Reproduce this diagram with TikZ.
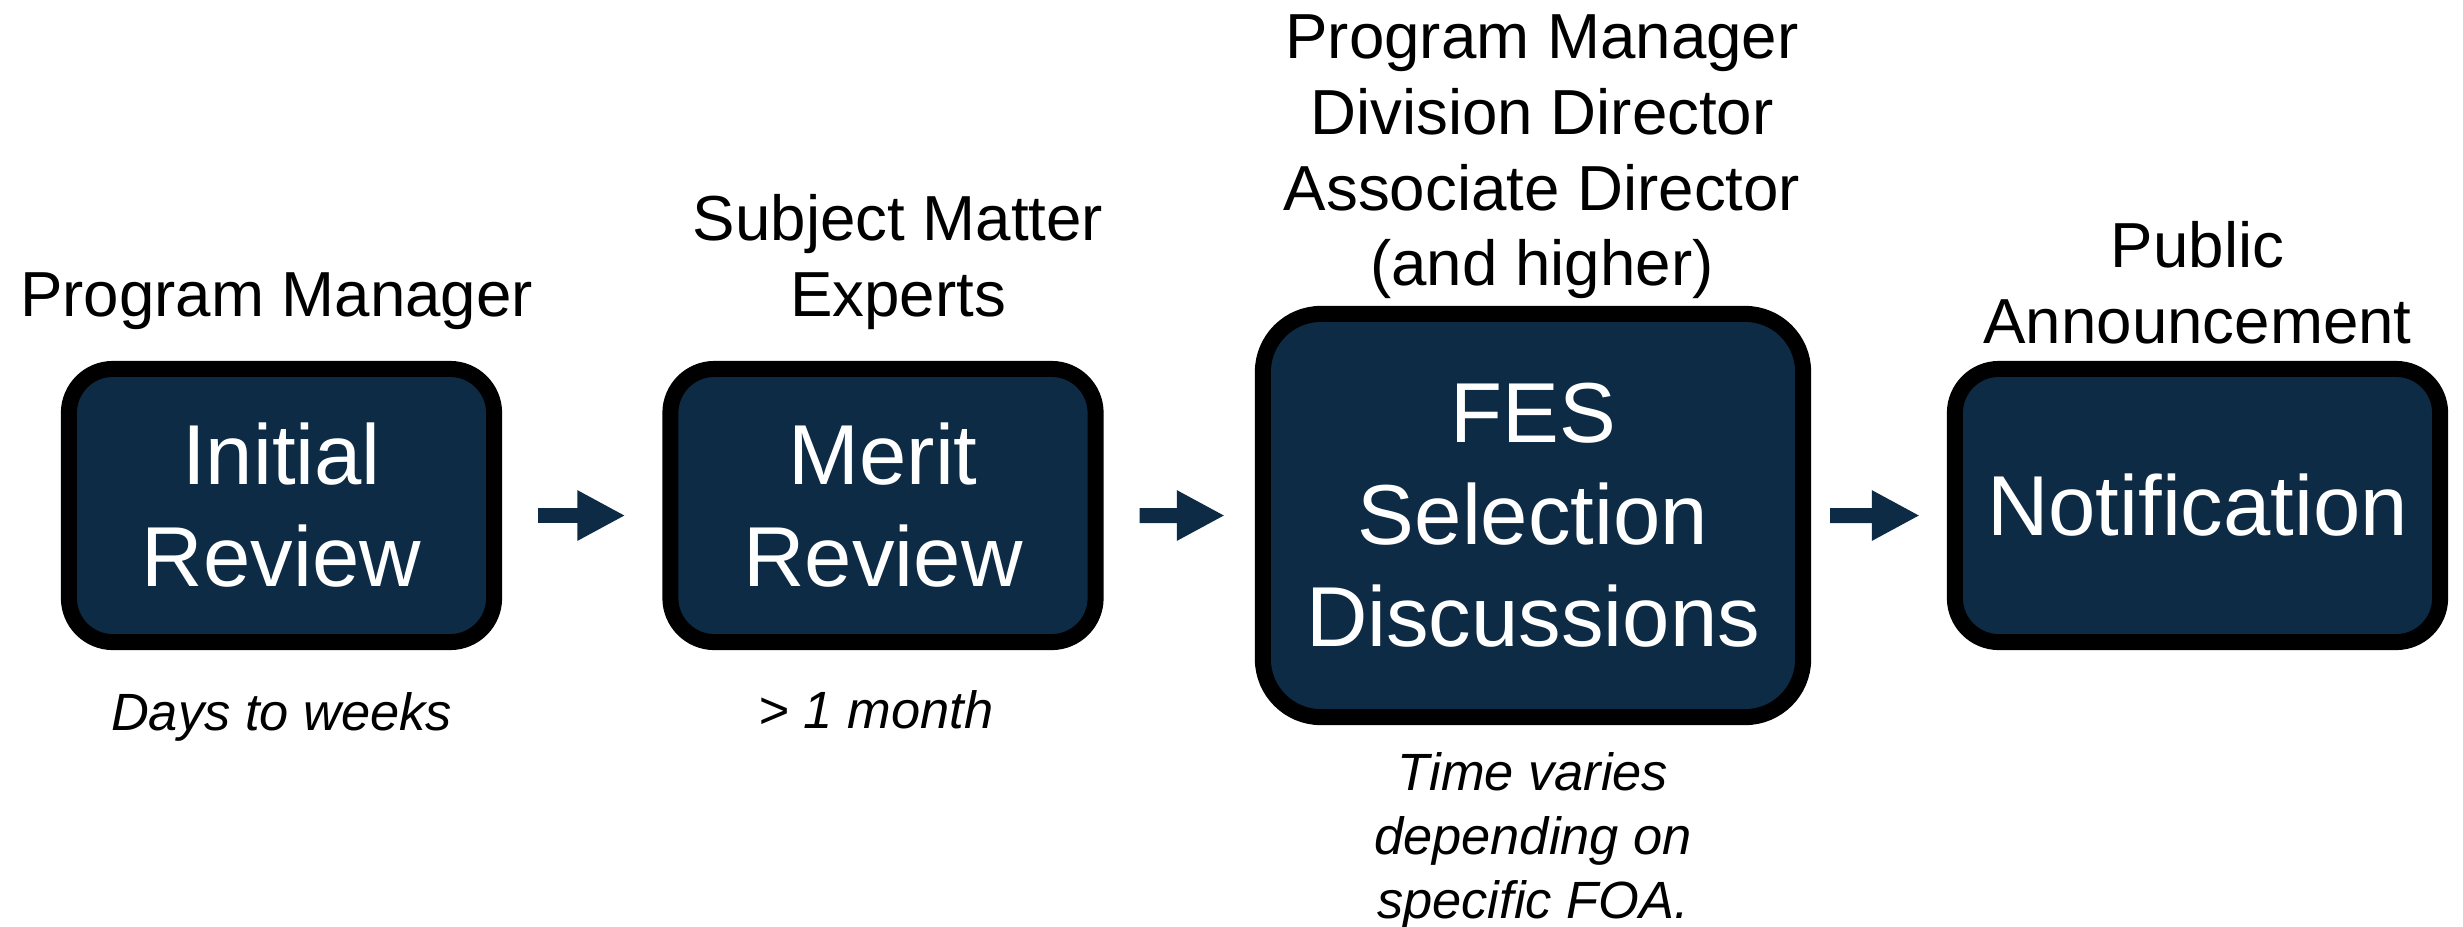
\documentclass[tikz,border=0pt]{standalone}
\usepackage{fontspec}
\setmainfont{Liberation Sans}
\usepackage{tikz}
\usetikzlibrary{arrows.meta,positioning}

\definecolor{fesnavy}{RGB}{13,43,69}

\begin{document}
\begin{tikzpicture}[x=0.01cm,y=-0.01cm,
    step box/.style={rectangle,draw=black,line width=0.16cm,fill=fesnavy,text=white,rounded corners=0.44cm,
      minimum width=4.25cm,minimum height=2.73cm,inner sep=0pt,align=center,font=\fontsize{24.2}{29}\selectfont},
    who label/.style={align=center,inner sep=0pt,font=\fontsize{18.1}{21.6}\selectfont},
    time label/.style={align=center,inner sep=0pt,font=\fontsize{14.9}{18.1}\selectfont\itshape},
    flow arrow/.style={draw=fesnavy,line width=0.15cm,-{Triangle[length=0.48cm,width=0.47cm]}}]
    \useasboundingbox (0,0) rectangle (2463,926);

    \node[step box] (initial) at (281.5,505.5) {Initial\\Review};
    \node[step box] (merit) at (883,505.5) {Merit\\Review};
    \node[step box,minimum width=5.4cm,minimum height=4.03cm,rounded corners=0.58cm] (fes) at (1533,515.5) {FES\\Selection\\Discussions};
    \node[step box,minimum width=4.85cm] (notify) at (2197.5,505.5) {Notification};

    \node[who label,above=0.31cm of initial,xshift=-0.05cm] (pm) {Program Manager};
    \node[who label,above=0.31cm of merit,xshift=0.15cm] (sme) {Subject Matter\\Experts};
    \node[who label,above=0.06cm of fes,xshift=0.09cm] (leads) {Program Manager\\Division Director\\Associate Director\\(and higher)};
    \node[who label,above=0.16cm of notify] (pub) {Public\\Announcement};

    \node[time label,below=0.42cm of initial] (t1) {Days to weeks};
    \node[time label,below=0.40cm of merit,xshift=-0.07cm] (t2) {> 1 month};
    \node[time label,below=0.27cm of fes] (t3) {Time varies\\depending on\\specific FOA.};

    \draw[flow arrow,shorten <=0.36cm,shorten >=0.37cm] ([yshift=-0.1cm]initial.east) -- ([yshift=-0.1cm]merit.west);
    \draw[flow arrow,shorten <=0.36cm,shorten >=0.30cm] ([yshift=-0.1cm]merit.east) -- (fes.west);
    \draw[flow arrow,shorten <=0.19cm,shorten >=0.27cm] (fes.east) -- ([yshift=-0.1cm]notify.west);
\end{tikzpicture}
\end{document}
